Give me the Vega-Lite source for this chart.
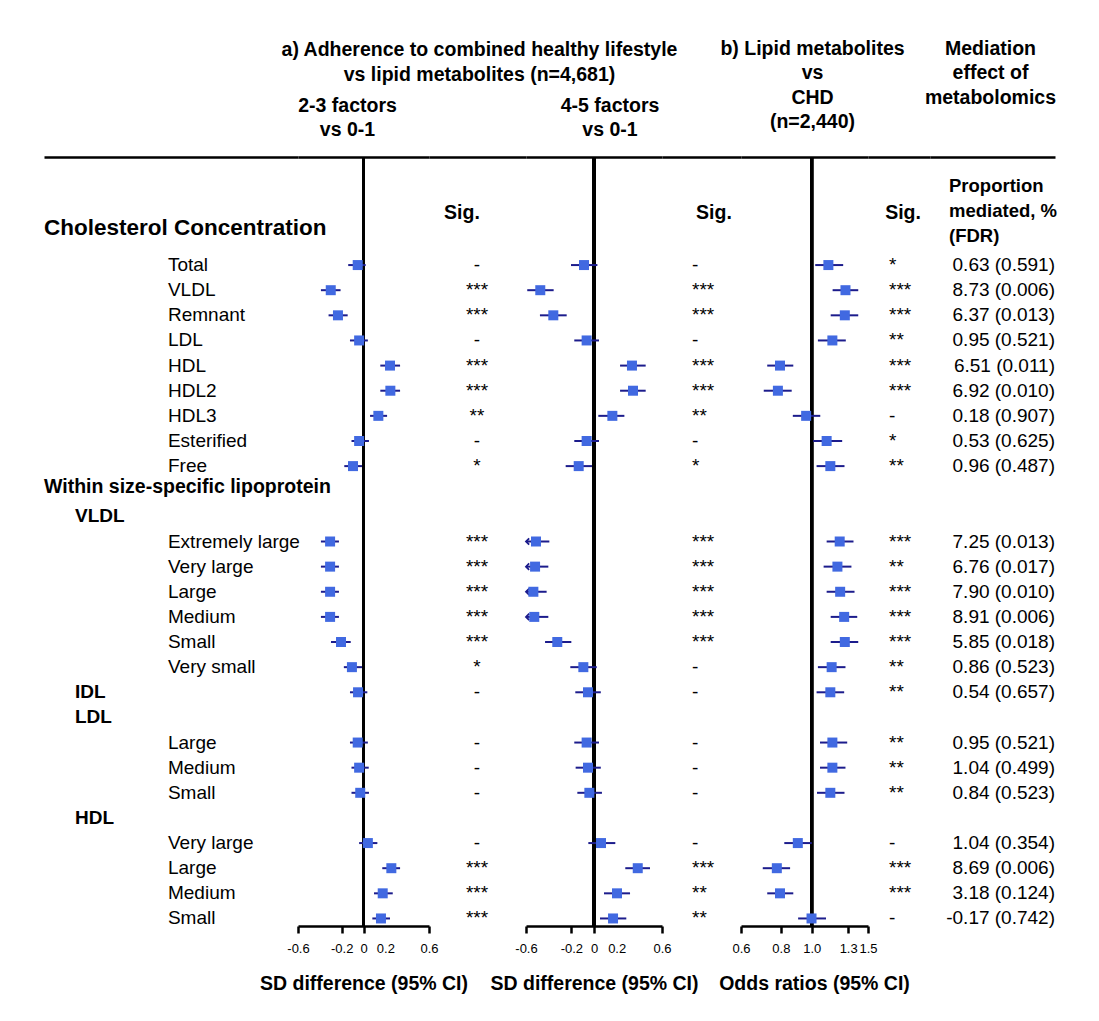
{
 "$schema": "https://vega.github.io/schema/vega-lite/v6.json",
 "padding": {"left": 44, "top": 38, "right": 5, "bottom": 5},
 "background": "white",
 "config": {
  "font": "Liberation Sans",
  "view": {"stroke": null},
  "title": {"font": "Liberation Sans", "fontSize": 19.5, "fontWeight": "bold", "color": "black", "lineHeight": 24.5, "anchor": "middle", "frame": "group", "baseline": "bottom"},
  "axis": {"domainColor": "black", "domainWidth": 2.5, "tickColor": "black", "tickWidth": 2.5, "tickSize": 7, "labelFontSize": 13, "labelColor": "black", "labelFont": "Liberation Sans", "titleFont": "Liberation Sans", "titleFontSize": 19.5, "titleFontWeight": "bold", "titleColor": "black", "labelPadding": 9, "titlePadding": 19, "grid": false},
  "text": {"font": "Liberation Sans", "color": "black"}
 },
 "datasets": {
  "rows": [
   {"id": 4, "lvl": "h0", "label": "Cholesterol Concentration"},
   {"id": 5, "lvl": "it", "label": "Total", "b1": -0.053, "l1": -0.14, "u1": 0.02, "s1": "-", "b2": -0.088, "l2": -0.203, "u2": 0.03, "s2": "-", "or": 1.127, "orl": 1.025, "oru": 1.254, "s3": "*", "med": "0.63 (0.591)"},
   {"id": 6, "lvl": "it", "label": "VLDL", "b1": -0.3, "l1": -0.39, "u1": -0.21, "s1": "***", "b2": -0.474, "l2": -0.589, "u2": -0.356, "s2": "***", "or": 1.275, "orl": 1.162, "oru": 1.398, "s3": "***", "med": "8.73 (0.006)"},
   {"id": 7, "lvl": "it", "label": "Remnant", "b1": -0.234, "l1": -0.32, "u1": -0.145, "s1": "***", "b2": -0.359, "l2": -0.477, "u2": -0.241, "s2": "***", "or": 1.269, "orl": 1.146, "oru": 1.398, "s3": "***", "med": "6.37 (0.013)"},
   {"id": 8, "lvl": "it", "label": "LDL", "b1": -0.04, "l1": -0.124, "u1": 0.04, "s1": "-", "b2": -0.065, "l2": -0.174, "u2": 0.044, "s2": "-", "or": 1.16, "orl": 1.045, "oru": 1.278, "s3": "**", "med": "0.95 (0.521)"},
   {"id": 9, "lvl": "it", "label": "HDL", "b1": 0.243, "l1": 0.154, "u1": 0.335, "s1": "***", "b2": 0.335, "l2": 0.23, "u2": 0.456, "s2": "***", "or": 0.795, "orl": 0.725, "oru": 0.875, "s3": "***", "med": "6.51 (0.011)"},
   {"id": 10, "lvl": "it", "label": "HDL2", "b1": 0.246, "l1": 0.154, "u1": 0.335, "s1": "***", "b2": 0.344, "l2": 0.23, "u2": 0.456, "s2": "***", "or": 0.783, "orl": 0.707, "oru": 0.865, "s3": "***", "med": "6.92 (0.010)"},
   {"id": 11, "lvl": "it", "label": "HDL3", "b1": 0.136, "l1": 0.06, "u1": 0.216, "s1": "**", "b2": 0.162, "l2": 0.038, "u2": 0.268, "s2": "**", "or": 0.96, "orl": 0.872, "oru": 1.063, "s3": "-", "med": "0.18 (0.907)"},
   {"id": 12, "lvl": "it", "label": "Esterified", "b1": -0.04, "l1": -0.11, "u1": 0.05, "s1": "-", "b2": -0.065, "l2": -0.174, "u2": 0.044, "s2": "-", "or": 1.113, "orl": 1.01, "oru": 1.245, "s3": "*", "med": "0.53 (0.625)"},
   {"id": 13, "lvl": "it", "label": "Free", "b1": -0.096, "l1": -0.176, "u1": -0.014, "s1": "*", "b2": -0.135, "l2": -0.25, "u2": -0.018, "s2": "*", "or": 1.143, "orl": 1.035, "oru": 1.266, "s3": "**", "med": "0.96 (0.487)"},
   {"id": 14, "lvl": "h1", "label": "Within size-specific lipoprotein"},
   {"id": 15, "lvl": "h2", "label": "VLDL"},
   {"id": 16, "lvl": "it", "label": "Extremely large", "b1": -0.306, "l1": -0.39, "u1": -0.225, "s1": "***", "b2": -0.512, "l2": -0.65, "u2": -0.394, "s2": "***", "or": 1.223, "orl": 1.113, "oru": 1.351, "s3": "***", "med": "7.25 (0.013)"},
   {"id": 17, "lvl": "it", "label": "Very large", "b1": -0.306, "l1": -0.39, "u1": -0.225, "s1": "***", "b2": -0.52, "l2": -0.66, "u2": -0.403, "s2": "***", "or": 1.203, "orl": 1.089, "oru": 1.331, "s3": "**", "med": "6.76 (0.017)"},
   {"id": 18, "lvl": "it", "label": "Large", "b1": -0.306, "l1": -0.39, "u1": -0.225, "s1": "***", "b2": -0.535, "l2": -0.67, "u2": -0.418, "s2": "***", "or": 1.227, "orl": 1.113, "oru": 1.361, "s3": "***", "med": "7.90 (0.010)"},
   {"id": 19, "lvl": "it", "label": "Medium", "b1": -0.306, "l1": -0.39, "u1": -0.225, "s1": "***", "b2": -0.527, "l2": -0.66, "u2": -0.403, "s2": "***", "or": 1.263, "orl": 1.146, "oru": 1.388, "s3": "***", "med": "8.91 (0.006)"},
   {"id": 20, "lvl": "it", "label": "Small", "b1": -0.206, "l1": -0.298, "u1": -0.117, "s1": "***", "b2": -0.324, "l2": -0.432, "u2": -0.2, "s2": "***", "or": 1.269, "orl": 1.146, "oru": 1.398, "s3": "***", "med": "5.85 (0.018)"},
   {"id": 21, "lvl": "it", "label": "Very small", "b1": -0.106, "l1": -0.18, "u1": -0.014, "s1": "*", "b2": -0.094, "l2": -0.209, "u2": 0.024, "s2": "-", "or": 1.154, "orl": 1.045, "oru": 1.275, "s3": "**", "med": "0.86 (0.523)"},
   {"id": 22, "lvl": "h2", "label": "IDL", "b1": -0.05, "l1": -0.124, "u1": 0.035, "s1": "-", "b2": -0.053, "l2": -0.165, "u2": 0.06, "s2": "-", "or": 1.143, "orl": 1.035, "oru": 1.263, "s3": "**", "med": "0.54 (0.657)"},
   {"id": 23, "lvl": "h2", "label": "LDL"},
   {"id": 24, "lvl": "it", "label": "Large", "b1": -0.053, "l1": -0.124, "u1": 0.04, "s1": "-", "b2": -0.065, "l2": -0.174, "u2": 0.044, "s2": "-", "or": 1.16, "orl": 1.061, "oru": 1.291, "s3": "**", "med": "0.95 (0.521)"},
   {"id": 25, "lvl": "it", "label": "Medium", "b1": -0.04, "l1": -0.11, "u1": 0.048, "s1": "-", "b2": -0.053, "l2": -0.162, "u2": 0.06, "s2": "-", "or": 1.16, "orl": 1.061, "oru": 1.275, "s3": "**", "med": "1.04 (0.499)"},
   {"id": 26, "lvl": "it", "label": "Small", "b1": -0.03, "l1": -0.11, "u1": 0.05, "s1": "-", "b2": -0.041, "l2": -0.147, "u2": 0.07, "s2": "-", "or": 1.143, "orl": 1.038, "oru": 1.266, "s3": "**", "med": "0.84 (0.523)"},
   {"id": 27, "lvl": "h2", "label": "HDL"},
   {"id": 28, "lvl": "it", "label": "Very large", "b1": 0.04, "l1": -0.04, "u1": 0.127, "s1": "-", "b2": 0.062, "l2": -0.05, "u2": 0.188, "s2": "-", "or": 0.904, "orl": 0.82, "oru": 1.0, "s3": "-", "med": "1.04 (0.354)"},
   {"id": 29, "lvl": "it", "label": "Large", "b1": 0.255, "l1": 0.172, "u1": 0.335, "s1": "***", "b2": 0.386, "l2": 0.276, "u2": 0.494, "s2": "***", "or": 0.777, "orl": 0.702, "oru": 0.855, "s3": "***", "med": "8.69 (0.006)"},
   {"id": 30, "lvl": "it", "label": "Medium", "b1": 0.176, "l1": 0.096, "u1": 0.268, "s1": "***", "b2": 0.203, "l2": 0.088, "u2": 0.318, "s2": "**", "or": 0.795, "orl": 0.725, "oru": 0.875, "s3": "***", "med": "3.18 (0.124)"},
   {"id": 31, "lvl": "it", "label": "Small", "b1": 0.16, "l1": 0.081, "u1": 0.243, "s1": "***", "b2": 0.168, "l2": 0.053, "u2": 0.285, "s2": "**", "or": 0.998, "orl": 0.906, "oru": 1.108, "s3": "-", "med": "-0.17 (0.742)"}
  ],
  "heads": [
   {"id": 3, "col": "sig", "text": "Sig."},
   {"id": 2, "col": "med", "text": "Proportion"},
   {"id": 3, "col": "med", "text": "mediated, %"},
   {"id": 4, "col": "med", "text": "(FDR)"}
  ]
 },
 "spacing": 0,
 "bounds": "flush",
 "hconcat": [
  {
   "width": 254, "height": 769,
   "data": {"name": "rows"},
   "layer": [
    {"transform": [{"filter": "datum.lvl == 'h0'"}],
     "mark": {"type": "text", "align": "left", "baseline": "middle", "fontSize": 22.5, "fontWeight": "bold", "dy": -12},
     "encoding": {"y": {"field": "id", "type": "ordinal", "scale": {"type": "point", "domain": [1,2,3,4,5,6,7,8,9,10,11,12,13,14,15,16,17,18,19,20,21,22,23,24,25,26,27,28,29,30,31], "padding": 0.3}, "axis": null},
      "x": {"datum": 0, "type": "quantitative", "scale": {"domain": [0, 1], "nice": false, "zero": false}, "axis": {"orient": "top", "ticks": false, "labels": false, "title": null}},
      "text": {"field": "label"}}},
    {"transform": [{"filter": "datum.lvl == 'h1'"}],
     "mark": {"type": "text", "align": "left", "baseline": "middle", "fontSize": 19.5, "fontWeight": "bold", "dy": -4},
     "encoding": {"y": {"field": "id", "type": "ordinal", "scale": {"type": "point", "domain": [1,2,3,4,5,6,7,8,9,10,11,12,13,14,15,16,17,18,19,20,21,22,23,24,25,26,27,28,29,30,31], "padding": 0.3}, "axis": null},
      "x": {"datum": 0, "type": "quantitative", "scale": {"domain": [0, 1], "nice": false, "zero": false}, "axis": {"orient": "top", "ticks": false, "labels": false, "title": null}},
      "text": {"field": "label"}}},
    {"transform": [{"filter": "datum.lvl == 'h2'"}],
     "mark": {"type": "text", "align": "left", "baseline": "middle", "fontSize": 19, "fontWeight": "bold"},
     "encoding": {"y": {"field": "id", "type": "ordinal", "scale": {"type": "point", "domain": [1,2,3,4,5,6,7,8,9,10,11,12,13,14,15,16,17,18,19,20,21,22,23,24,25,26,27,28,29,30,31], "padding": 0.3}, "axis": null},
      "x": {"datum": 0.122, "type": "quantitative", "scale": {"domain": [0, 1], "nice": false, "zero": false}, "axis": {"orient": "top", "ticks": false, "labels": false, "title": null}},
      "text": {"field": "label"}}},
    {"transform": [{"filter": "datum.lvl == 'it'"}],
     "mark": {"type": "text", "align": "left", "baseline": "middle", "fontSize": 19},
     "encoding": {"y": {"field": "id", "type": "ordinal", "scale": {"type": "point", "domain": [1,2,3,4,5,6,7,8,9,10,11,12,13,14,15,16,17,18,19,20,21,22,23,24,25,26,27,28,29,30,31], "padding": 0.3}, "axis": null},
      "x": {"datum": 0.488, "type": "quantitative", "scale": {"domain": [0, 1], "nice": false, "zero": false}, "axis": {"orient": "top", "ticks": false, "labels": false, "title": null}},
      "text": {"field": "label"}}}
   ]
  },
  {
   "width": 131, "height": 769,
   "title": {"text": ["2-3 factors", "vs 0-1"], "offset": 15, "dx": -16},
   "data": {"name": "rows"},
   "layer": [
    {"mark": {"type": "rule", "color": "black", "strokeWidth": 2.5},
     "encoding": {"x": {"datum": 0, "type": "quantitative", "scale": {"domain": [-0.6, 0.6], "nice": false, "zero": false, "clamp": true}, "axis": {"orient": "top", "ticks": false, "labels": false, "title": null}}}},
    {"transform": [{"filter": "isValid(datum.b1)"}],
     "mark": {"type": "rule", "color": "#1c1c8c", "strokeWidth": 2},
     "encoding": {"y": {"field": "id", "type": "ordinal", "scale": {"type": "point", "domain": [1,2,3,4,5,6,7,8,9,10,11,12,13,14,15,16,17,18,19,20,21,22,23,24,25,26,27,28,29,30,31], "padding": 0.3}, "axis": null},
      "x": {"field": "l1", "type": "quantitative", "scale": {"domain": [-0.6, 0.6], "nice": false, "zero": false, "clamp": true}, "axis": {"orient": "bottom", "values": [-0.6, -0.2, 0, 0.2, 0.6], "labelExpr": "datum.value == 0 ? '0' : replace(format(datum.value, '.1f'), '\u2212', '-')", "tickOpacity": {"condition": {"test": "datum.value > 0.1 && datum.value < 0.3", "value": 0}, "value": 1}, "title": "SD difference (95% CI)", "labelOverlap": false, "labelFlush": false}},
      "x2": {"field": "u1"}}},
    {"transform": [{"filter": "isValid(datum.b1)"}],
     "mark": {"type": "point", "shape": "square", "filled": true, "size": 100, "color": "#4169e1", "opacity": 1},
     "encoding": {"y": {"field": "id", "type": "ordinal", "scale": {"type": "point", "domain": [1,2,3,4,5,6,7,8,9,10,11,12,13,14,15,16,17,18,19,20,21,22,23,24,25,26,27,28,29,30,31], "padding": 0.3}, "axis": null},
      "x": {"field": "b1", "type": "quantitative", "scale": {"domain": [-0.6, 0.6], "nice": false, "zero": false, "clamp": true}, "axis": null}}}
   ],
   "resolve": {"axis": {"x": "independent"}}
  },
  {
   "width": 97, "height": 769,
   "title": {"text": ["a) Adherence to combined healthy lifestyle", "vs lipid metabolites (n=4,681)"], "offset": 72, "dx": 2},
   "layer": [
    {"data": {"name": "heads"}, "transform": [{"filter": "datum.col == 'sig'"}],
     "mark": {"type": "text", "align": "center", "baseline": "middle", "fontSize": 19.5, "fontWeight": "bold", "dy": -2},
     "encoding": {"y": {"field": "id", "type": "ordinal", "scale": {"type": "point", "domain": [1,2,3,4,5,6,7,8,9,10,11,12,13,14,15,16,17,18,19,20,21,22,23,24,25,26,27,28,29,30,31], "padding": 0.3}, "axis": null},
      "x": {"datum": 0.34, "type": "quantitative", "scale": {"domain": [0, 1], "nice": false, "zero": false}, "axis": {"orient": "top", "ticks": false, "labels": false, "title": null}},
      "text": {"field": "text"}}},
    {"data": {"name": "rows"}, "transform": [{"filter": "isValid(datum.s1)"}],
     "mark": {"type": "text", "align": "center", "baseline": "middle", "fontSize": 19},
     "encoding": {"y": {"field": "id", "type": "ordinal", "scale": {"type": "point", "domain": [1,2,3,4,5,6,7,8,9,10,11,12,13,14,15,16,17,18,19,20,21,22,23,24,25,26,27,28,29,30,31], "padding": 0.3}, "axis": null},
      "x": {"datum": 0.495, "type": "quantitative", "scale": {"domain": [0, 1], "nice": false, "zero": false}, "axis": {"orient": "top", "ticks": false, "labels": false, "title": null}},
      "text": {"field": "s1"}}}
   ]
  },
  {
   "width": 136, "height": 769,
   "title": {"text": ["4-5 factors", "vs 0-1"], "offset": 15, "dx": 16},
   "data": {"name": "rows"},
   "layer": [
    {"mark": {"type": "rule", "color": "black", "strokeWidth": 2.5},
     "encoding": {"x": {"datum": 0, "type": "quantitative", "scale": {"domain": [-0.6, 0.6], "nice": false, "zero": false, "clamp": true}, "axis": {"orient": "top", "ticks": false, "labels": false, "title": null}}}},
    {"transform": [{"filter": "isValid(datum.b2)"}],
     "mark": {"type": "rule", "color": "#1c1c8c", "strokeWidth": 2},
     "encoding": {"y": {"field": "id", "type": "ordinal", "scale": {"type": "point", "domain": [1,2,3,4,5,6,7,8,9,10,11,12,13,14,15,16,17,18,19,20,21,22,23,24,25,26,27,28,29,30,31], "padding": 0.3}, "axis": null},
      "x": {"field": "l2", "type": "quantitative", "scale": {"domain": [-0.6, 0.6], "nice": false, "zero": false, "clamp": true}, "axis": {"orient": "bottom", "values": [-0.6, -0.2, 0, 0.2, 0.6], "labelExpr": "datum.value == 0 ? '0' : replace(format(datum.value, '.1f'), '\u2212', '-')", "tickOpacity": {"condition": {"test": "datum.value > 0.1 && datum.value < 0.3", "value": 0}, "value": 1}, "title": "SD difference (95% CI)", "labelOverlap": false, "labelFlush": false}},
      "x2": {"field": "u2"}}},
    {"transform": [{"filter": "isValid(datum.b2) && datum.l2 < -0.6"}],
     "mark": {"type": "point", "shape": "M 1 -1 L 0 0 L 1 1", "filled": false, "size": 40, "color": "#1c1c8c", "strokeWidth": 1.8, "opacity": 1},
     "encoding": {"y": {"field": "id", "type": "ordinal", "scale": {"type": "point", "domain": [1,2,3,4,5,6,7,8,9,10,11,12,13,14,15,16,17,18,19,20,21,22,23,24,25,26,27,28,29,30,31], "padding": 0.3}, "axis": null},
      "x": {"field": "l2", "type": "quantitative", "scale": {"domain": [-0.6, 0.6], "nice": false, "zero": false, "clamp": true}, "axis": null}}},
    {"transform": [{"filter": "isValid(datum.b2)"}],
     "mark": {"type": "point", "shape": "square", "filled": true, "size": 100, "color": "#4169e1", "opacity": 1},
     "encoding": {"y": {"field": "id", "type": "ordinal", "scale": {"type": "point", "domain": [1,2,3,4,5,6,7,8,9,10,11,12,13,14,15,16,17,18,19,20,21,22,23,24,25,26,27,28,29,30,31], "padding": 0.3}, "axis": null},
      "x": {"field": "b2", "type": "quantitative", "scale": {"domain": [-0.6, 0.6], "nice": false, "zero": false, "clamp": true}, "axis": null}}}
   ],
   "resolve": {"axis": {"x": "independent"}}
  },
  {
   "width": 79, "height": 769,
   "layer": [
    {"data": {"name": "heads"}, "transform": [{"filter": "datum.col == 'sig'"}],
     "mark": {"type": "text", "align": "center", "baseline": "middle", "fontSize": 19.5, "fontWeight": "bold", "dy": -2},
     "encoding": {"y": {"field": "id", "type": "ordinal", "scale": {"type": "point", "domain": [1,2,3,4,5,6,7,8,9,10,11,12,13,14,15,16,17,18,19,20,21,22,23,24,25,26,27,28,29,30,31], "padding": 0.3}, "axis": null},
      "x": {"datum": 0.658, "type": "quantitative", "scale": {"domain": [0, 1], "nice": false, "zero": false}, "axis": {"orient": "top", "ticks": false, "labels": false, "title": null}},
      "text": {"field": "text"}}},
    {"data": {"name": "rows"}, "transform": [{"filter": "isValid(datum.s2)"}],
     "mark": {"type": "text", "align": "left", "baseline": "middle", "fontSize": 19},
     "encoding": {"y": {"field": "id", "type": "ordinal", "scale": {"type": "point", "domain": [1,2,3,4,5,6,7,8,9,10,11,12,13,14,15,16,17,18,19,20,21,22,23,24,25,26,27,28,29,30,31], "padding": 0.3}, "axis": null},
      "x": {"datum": 0.38, "type": "quantitative", "scale": {"domain": [0, 1], "nice": false, "zero": false}, "axis": {"orient": "top", "ticks": false, "labels": false, "title": null}},
      "text": {"field": "s2"}}}
   ]
  },
  {
   "width": 127, "height": 769,
   "title": {"text": ["b) Lipid metabolites", "vs", "CHD", "(n=2,440)"], "offset": 23, "dx": 8},
   "data": {"name": "rows"},
   "layer": [
    {"mark": {"type": "rule", "color": "black", "strokeWidth": 2.5},
     "encoding": {"x": {"datum": 1, "type": "quantitative", "scale": {"type": "log", "domain": [0.6, 1.5], "nice": false}, "axis": {"orient": "top", "ticks": false, "labels": false, "title": null}}}},
    {"transform": [{"filter": "isValid(datum.or)"}],
     "mark": {"type": "rule", "color": "#1c1c8c", "strokeWidth": 2},
     "encoding": {"y": {"field": "id", "type": "ordinal", "scale": {"type": "point", "domain": [1,2,3,4,5,6,7,8,9,10,11,12,13,14,15,16,17,18,19,20,21,22,23,24,25,26,27,28,29,30,31], "padding": 0.3}, "axis": null},
      "x": {"field": "orl", "type": "quantitative", "scale": {"type": "log", "domain": [0.6, 1.5], "nice": false}, "axis": {"orient": "bottom", "values": [0.6, 0.8, 1.0, 1.3, 1.5], "format": ".1f", "title": "Odds ratios (95% CI)", "titleX": 73, "labelOverlap": false, "labelFlush": false}},
      "x2": {"field": "oru"}}},
    {"transform": [{"filter": "isValid(datum.or)"}],
     "mark": {"type": "point", "shape": "square", "filled": true, "size": 100, "color": "#4169e1", "opacity": 1},
     "encoding": {"y": {"field": "id", "type": "ordinal", "scale": {"type": "point", "domain": [1,2,3,4,5,6,7,8,9,10,11,12,13,14,15,16,17,18,19,20,21,22,23,24,25,26,27,28,29,30,31], "padding": 0.3}, "axis": null},
      "x": {"field": "or", "type": "quantitative", "scale": {"type": "log", "domain": [0.6, 1.5], "nice": false}, "axis": null}}}
   ],
   "resolve": {"axis": {"x": "independent"}}
  },
  {
   "width": 62, "height": 769,
   "layer": [
    {"data": {"name": "heads"}, "transform": [{"filter": "datum.col == 'sig'"}],
     "mark": {"type": "text", "align": "center", "baseline": "middle", "fontSize": 19.5, "fontWeight": "bold", "dy": -2},
     "encoding": {"y": {"field": "id", "type": "ordinal", "scale": {"type": "point", "domain": [1,2,3,4,5,6,7,8,9,10,11,12,13,14,15,16,17,18,19,20,21,22,23,24,25,26,27,28,29,30,31], "padding": 0.3}, "axis": null},
      "x": {"datum": 0.565, "type": "quantitative", "scale": {"domain": [0, 1], "nice": false, "zero": false}, "axis": {"orient": "top", "ticks": false, "labels": false, "title": null}},
      "text": {"field": "text"}}},
    {"data": {"name": "rows"}, "transform": [{"filter": "isValid(datum.s3)"}],
     "mark": {"type": "text", "align": "left", "baseline": "middle", "fontSize": 19},
     "encoding": {"y": {"field": "id", "type": "ordinal", "scale": {"type": "point", "domain": [1,2,3,4,5,6,7,8,9,10,11,12,13,14,15,16,17,18,19,20,21,22,23,24,25,26,27,28,29,30,31], "padding": 0.3}, "axis": null},
      "x": {"datum": 0.34, "type": "quantitative", "scale": {"domain": [0, 1], "nice": false, "zero": false}, "axis": {"orient": "top", "ticks": false, "labels": false, "title": null}},
      "text": {"field": "s3"}}}
   ]
  },
  {
   "width": 125, "height": 769,
   "title": {"text": ["Mediation", "effect of", "metabolomics"], "offset": 49, "dx": -2},
   "layer": [
    {"data": {"name": "heads"}, "transform": [{"filter": "datum.col == 'med'"}],
     "mark": {"type": "text", "align": "left", "baseline": "middle", "fontSize": 18.5, "fontWeight": "bold", "dy": -4},
     "encoding": {"y": {"field": "id", "type": "ordinal", "scale": {"type": "point", "domain": [1,2,3,4,5,6,7,8,9,10,11,12,13,14,15,16,17,18,19,20,21,22,23,24,25,26,27,28,29,30,31], "padding": 0.3}, "axis": null},
      "x": {"datum": 0.152, "type": "quantitative", "scale": {"domain": [0, 1], "nice": false, "zero": false}, "axis": {"orient": "top", "ticks": false, "labels": false, "title": null}},
      "text": {"field": "text"}}},
    {"data": {"name": "rows"}, "transform": [{"filter": "isValid(datum.med)"}],
     "mark": {"type": "text", "align": "right", "baseline": "middle", "fontSize": 19},
     "encoding": {"y": {"field": "id", "type": "ordinal", "scale": {"type": "point", "domain": [1,2,3,4,5,6,7,8,9,10,11,12,13,14,15,16,17,18,19,20,21,22,23,24,25,26,27,28,29,30,31], "padding": 0.3}, "axis": null},
      "x": {"datum": 1, "type": "quantitative", "scale": {"domain": [0, 1], "nice": false, "zero": false}, "axis": {"orient": "top", "ticks": false, "labels": false, "title": null}},
      "text": {"field": "med"}}}
   ]
  }
 ]
}
